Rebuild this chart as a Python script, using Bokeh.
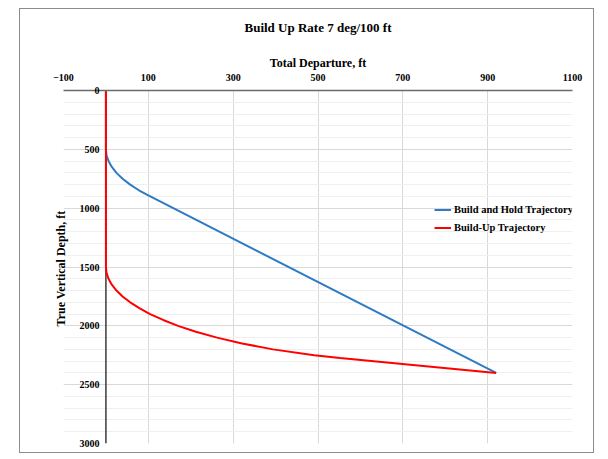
from bokeh.plotting import figure
from bokeh.models import Range1d, FixedTicker, Legend, LegendItem, Span, LinearAxis
from bokeh.embed import file_html
from bokeh.resources import INLINE

title_text = "Build Up Rate 7 deg/100 ft"
x_label = "Total Departure, ft"
y_label = "True  Vertical Depth, ft"
x_ticks = [-100, 100, 300, 500, 700, 900, 1100]
y_ticks = [0, 500, 1000, 1500, 2000, 2500, 3000]
y_minor_ticks = [0, 100, 200, 300, 400, 500, 600, 700, 800, 900, 1000, 1100, 1200, 1300, 1400,
                 1500, 1600, 1700, 1800, 1900, 2000, 2100, 2200, 2300, 2400, 2500, 2600, 2700,
                 2800, 2900, 3000]

series_names = ["Build and Hold Trajectory", "Build-Up Trajectory"]

hold_departure = [0, 0, 1.5, 6.1, 13.9, 24.9, 39.3, 57.2, 78.8, 100, 920]
hold_tvd = [0, 500, 550, 600, 650, 700, 750, 800, 850, 892, 2400]

buildup_departure = [0, 0, 1.5, 6.1, 13.9, 24.9, 39.3, 57.2, 78.8, 104, 135, 170, 212, 262,
                     321, 394, 491, 552, 920]
buildup_tvd = [0, 1500, 1550, 1600, 1650, 1700, 1750, 1800, 1850, 1900, 1950, 2000, 2050, 2100,
               2150, 2200, 2250, 2274, 2400]

FONT = "Liberation Serif"

p = figure(width=575, height=445, output_backend="svg", toolbar_location=None,
           x_range=Range1d(-100, 1100), y_range=Range1d(3000, 0),
           x_axis_location="above",
           min_border_left=43, min_border_right=23, min_border_top=81, min_border_bottom=11)
p.margin = (8, 0, 0, 19)
p.styles = {"border": "1px solid #8c8c8c"}

p.outline_line_color = None
p.background_fill_color = "white"

# x axis (top)
xa = p.xaxis[0]
xa.ticker = FixedTicker(ticks=x_ticks)
xa.axis_label = x_label
xa.axis_label_text_font = FONT
xa.axis_label_text_font_size = "12px"
xa.axis_label_text_font_style = "bold"
xa.axis_label_text_color = "#000000"
xa.axis_label_standoff = 1
xa.major_label_text_font = FONT
xa.major_label_text_font_size = "10px"
xa.major_label_text_font_style = "bold"
xa.major_label_text_color = "#000000"
xa.major_label_standoff = 10
xa.major_tick_out = 0
xa.major_tick_in = 0
xa.minor_tick_out = 0
xa.minor_tick_in = 0
xa.axis_line_color = "#6b6b6b"
xa.axis_line_width = 1.5

# chart title, carried by a tick-less axis stacked above the x axis
title_axis = LinearAxis(ticker=FixedTicker(ticks=[]), axis_label=title_text,
                        axis_line_color=None, major_tick_out=0, major_tick_in=0,
                        minor_tick_out=0, minor_tick_in=0, major_label_standoff=0,
                        axis_label_text_font=FONT, axis_label_text_font_size="13px",
                        axis_label_text_font_style="bold", axis_label_text_color="#000000",
                        axis_label_standoff=18)
p.add_layout(title_axis, "above")

# y axis: labels pushed right so they sit just left of departure 0
ya = p.yaxis[0]
ya.ticker = FixedTicker(ticks=y_ticks, minor_ticks=y_minor_ticks)
ya.axis_label = y_label
ya.axis_label_text_font = FONT
ya.axis_label_text_font_size = "12px"
ya.axis_label_text_font_style = "bold"
ya.axis_label_text_color = "#000000"
ya.axis_label_standoff = 9
ya.major_label_text_font = FONT
ya.major_label_text_font_size = "10px"
ya.major_label_text_font_style = "bold"
ya.major_label_text_color = "#000000"
ya.major_label_standoff = -36
ya.major_tick_out = 0
ya.major_tick_in = 0
ya.minor_tick_out = 0
ya.minor_tick_in = 0
ya.axis_line_color = None

# vertical axis line at departure 0
zero_line = Span(location=0, dimension="height", line_color="#3a3a3a", line_width=1.5,
                 level="underlay")
p.add_layout(zero_line)

p.xgrid.grid_line_color = "#d9d9d9"
p.xgrid.grid_line_width = 1
p.ygrid.grid_line_color = "#d9d9d9"
p.ygrid.grid_line_width = 1
p.ygrid.minor_grid_line_color = "#efefef"
p.ygrid.minor_grid_line_width = 1

r1 = p.line(hold_departure, hold_tvd, line_color="#2e7bc4", line_width=2)
r2 = p.line(buildup_departure, buildup_tvd, line_color="#ff0000", line_width=2)

legend = Legend(items=[LegendItem(label=series_names[0], renderers=[r1]),
                       LegendItem(label=series_names[1], renderers=[r2])],
                location=(371, 209), padding=0, margin=0, spacing=5,
                glyph_width=17, glyph_height=13, label_height=13, label_standoff=3,
                label_text_font=FONT, label_text_font_size="10.5px",
                label_text_font_style="bold", label_text_color="#000000",
                border_line_color=None, background_fill_alpha=0)
p.add_layout(legend)

open("out.html", "w").write(file_html(p, INLINE))
